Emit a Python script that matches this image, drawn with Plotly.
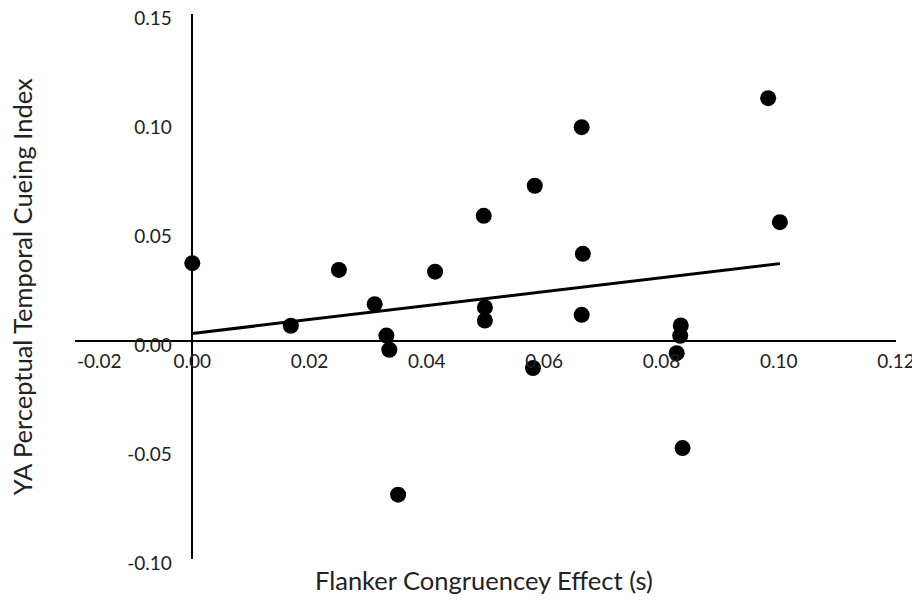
import numpy as np
import plotly.graph_objects as go

# Data
flanker_effect = [0.0000, 0.0168, 0.0250, 0.0311, 0.0331, 0.0336, 0.0351, 0.0414,
                  0.0497, 0.0499, 0.0499, 0.0584, 0.0581, 0.0664, 0.0666, 0.0664,
                  0.0826, 0.0833, 0.0832, 0.0836, 0.0982, 0.1002]
cueing_index = [0.0357, 0.0070, 0.0326, 0.0169, 0.0025, -0.0040, -0.0705, 0.0318,
                0.0574, 0.0154, 0.0094, 0.0712, -0.0124, 0.0981, 0.0400, 0.0120,
                -0.0056, 0.0071, 0.0024, -0.0491, 0.1114, 0.0545]

x_tick_vals = [-0.02, 0.00, 0.02, 0.04, 0.06, 0.08, 0.10, 0.12]
x_tick_text = ["-0.02", "0.00", "0.02", "0.04", "0.06", "0.08", "0.10", "0.12"]
y_tick_vals = [-0.10, -0.05, 0.00, 0.05, 0.10, 0.15]
y_tick_text = ["-0.10", "-0.05", "0.00", "0.05", "0.10", "0.15"]

x_title = "Flanker Congruencey Effect (s)"
y_title = "YA Perceptual Temporal Cueing Index"

x_range = [-0.02, 0.12]
y_range = [-0.10, 0.15]

FONT = "Lato"
FS = 19
TFS = 25.5
COL = "#222222"

xs = np.array(flanker_effect)
ys = np.array(cueing_index)
slope, intercept = np.polyfit(xs, ys, 1)
trend_x = np.array([xs.min(), xs.max()])
trend_y = slope * trend_x + intercept

fig = go.Figure()
fig.add_trace(go.Scatter(x=trend_x, y=trend_y, mode="lines",
                         line=dict(color="black", width=3), hoverinfo="skip"))
fig.add_trace(go.Scatter(x=xs, y=ys, mode="markers",
                         marker=dict(color="black", size=16, line=dict(width=0))))

x_pos_frac = (0 - y_range[0]) / (y_range[1] - y_range[0])
y_pos_frac = (0 - x_range[0]) / (x_range[1] - x_range[0])

fig.update_layout(
    width=912, height=593,
    margin=dict(l=67, r=24, t=6, b=42),
    paper_bgcolor="white", plot_bgcolor="white",
    showlegend=False,
    font=dict(family=FONT, size=FS, color=COL),
    xaxis=dict(range=x_range, anchor="free", position=x_pos_frac, automargin=False,
               tickvals=x_tick_vals[1:], ticktext=x_tick_text[1:],
               ticklabeloverflow="allow",
               showline=True, linecolor="black", linewidth=1.5,
               showgrid=False, zeroline=False,
               ticks="outside", ticklen=3, tickcolor="rgba(0,0,0,0)"),
    yaxis=dict(range=y_range, anchor="free", position=y_pos_frac, automargin=False,
               tickvals=y_tick_vals, ticktext=y_tick_text,
               ticklabeloverflow="allow", ticklabelshift=4,
               showline=True, linecolor="black", linewidth=1.5,
               showgrid=False, zeroline=False,
               ticks="outside", ticklen=16, tickcolor="rgba(0,0,0,0)"),
    annotations=[
        dict(x=x_tick_vals[0], y=0, xref="x", yref="y", text=x_tick_text[0],
             showarrow=False, xanchor="left", yanchor="top", yshift=-6,
             font=dict(family=FONT, size=FS, color=COL)),
        dict(x=0.498, y=-0.038, xref="paper", yref="paper", text=x_title,
             showarrow=False, xanchor="center", yanchor="middle",
             font=dict(family=FONT, size=TFS, color=COL)),
        dict(x=-0.065, y=0.5, xref="paper", yref="paper", text=y_title,
             showarrow=False, xanchor="center", yanchor="middle", textangle=-90,
             font=dict(family=FONT, size=TFS, color=COL)),
    ],
)

fig.write_html("out.html")
